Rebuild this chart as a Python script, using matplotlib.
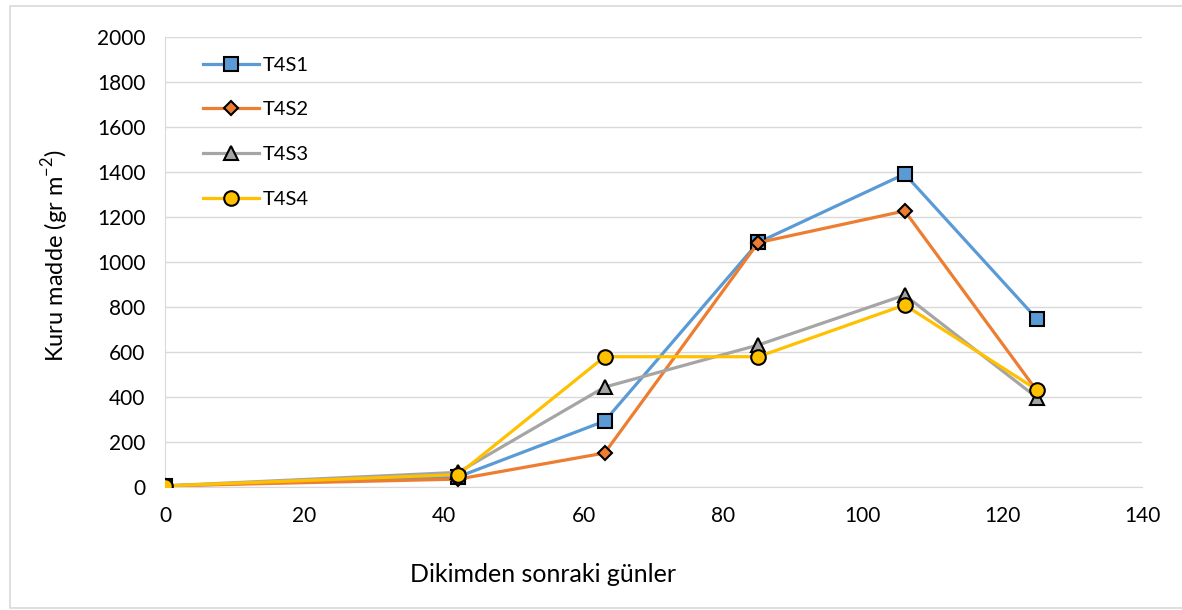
import matplotlib.pyplot as plt
from matplotlib.lines import Line2D

plt.rcParams['font.family'] = ['Lato', 'DejaVu Sans']
plt.rcParams['mathtext.fontset'] = 'custom'
plt.rcParams['mathtext.rm'] = 'Lato'

days = [0, 42, 63, 85, 106, 125]
t4s1 = [5, 45, 293, 1087, 1391, 745]
t4s2 = [5, 35, 151, 1086, 1227, 425]
t4s3 = [5, 65, 444, 631, 853, 396]
t4s4 = [5, 55, 579, 579, 809, 431]

series = [
    ('T4S1', t4s1, '#5B9BD5', 's', 10),
    ('T4S2', t4s2, '#ED7D31', 'D', 7.5),
    ('T4S3', t4s3, '#A5A5A5', '^', 9.5),
    ('T4S4', t4s4, '#FFC000', 'o', 10.5),
]

fig = plt.figure(figsize=(11.82, 6.10), dpi=100)
ax = fig.add_axes([165 / 1182, 1 - 487 / 610, 977 / 1182, 450 / 610])

for name, vals, col, mk, ms in series:
    ax.plot(days, vals, color=col, lw=2.3, marker=mk, markersize=ms,
            markerfacecolor=col, markeredgecolor='black', markeredgewidth=1.5,
            label=name, zorder=3)

ax.set_xlim(0, 140)
ax.set_ylim(0, 2000)
ax.set_xticks(range(0, 141, 20))
ax.set_yticks(range(0, 2001, 200))
ax.grid(axis='y', color='#d9d9d9', lw=1)
ax.set_axisbelow(True)
for s in ['top', 'right']:
    ax.spines[s].set_visible(False)
ax.spines['left'].set_color('#d9d9d9')
ax.spines['bottom'].set_color('#d9d9d9')
ax.tick_params(length=0, labelsize=15, colors='#000000')
ax.tick_params(axis='y', pad=14)
ax.tick_params(axis='x', pad=14)

ax.legend(loc='upper left', bbox_to_anchor=(0.02, 0.997), frameon=False,
          fontsize=14.5, labelspacing=1.38, handlelength=2.8, handletextpad=0.2)

fig.text(543 / 1182, 1 - 575 / 610, 'Dikimden sonraki günler',
         ha='center', va='center', fontsize=18)
fig.text(55 / 1182, 1 - 256 / 610, 'Kuru madde (gr m$^{-2}$)',
         ha='center', va='center', rotation=90, fontsize=17)

# chart area border (top, left, bottom)
bx0, by0, by1 = 10 / 1182, 1 - 608 / 610, 1 - 6 / 610
fig.lines.append(Line2D([1, bx0, bx0, 1], [by1, by1, by0, by0],
                        transform=fig.transFigure, color='#d9d9d9', lw=1.2))

fig.savefig('out.png', dpi=100)
